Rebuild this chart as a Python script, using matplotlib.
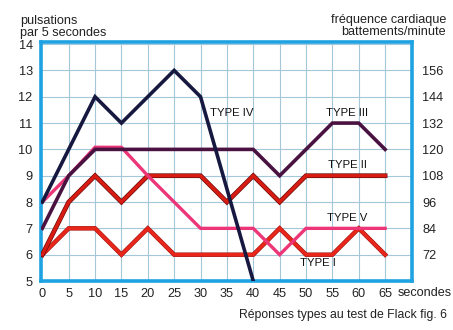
import matplotlib
matplotlib.use("Agg")
import matplotlib.pyplot as plt
import matplotlib.patheffects as pe

plt.rcParams['font.family'] = ['Liberation Sans', 'DejaVu Sans']

# Time (seconds) and pulse counts per 5 seconds for each response type
t_all = [0, 5, 10, 15, 20, 25, 30, 35, 40, 45, 50, 55, 60, 65]
t_type4 = [0, 5, 10, 15, 20, 25, 30, 40]
type4 = [8, 10, 12, 11, 12, 13, 12, 5]
type3 = [7, 9, 10, 10, 10, 10, 10, 10, 10, 9, 10, 11, 11, 10]
type5 = [8, 9, 10.08, 10.08, 9, 8, 7, 7, 7, 6, 7, 7, 7, 7]
type2 = [6, 8, 9, 8, 9, 9, 9, 8, 9, 8, 9, 9, 9, 9]
type1 = [6, 7, 7, 6, 7, 6, 6, 6, 6, 7, 6, 6, 7, 6]

left_ticks = [5, 6, 7, 8, 9, 10, 11, 12, 13, 14]
right_ticks = [72, 84, 96, 108, 120, 132, 144, 156]
x_ticks = [0, 5, 10, 15, 20, 25, 30, 35, 40, 45, 50, 55, 60, 65]

fig = plt.figure(figsize=(4.53, 3.30), dpi=100)
ax = fig.add_axes([41 / 453, 49 / 330, 371 / 453, 239 / 330])
ax.set_xlim(-0.25, 70.1)
ax.set_ylim(5, 14.08)

grid_c = '#a4c8da'
for xv in x_ticks[1:]:
    ax.axvline(xv, color=grid_c, lw=0.8, zorder=0)
for yv in left_ticks[1:]:
    ax.axhline(yv, color=grid_c, lw=0.8, zorder=0)

frame_c = '#1fa2e2'
for s in ax.spines.values():
    s.set_color(frame_c)
    s.set_linewidth(2.6)

ax.plot(t_all, type1, color='#e8261a', lw=2.4, solid_joinstyle='miter',
        path_effects=[pe.Stroke(linewidth=3.2, foreground='#a01010'), pe.Normal()], zorder=3)
ax.plot(t_all, type2, color='#d81c12', lw=2.4, solid_joinstyle='miter',
        path_effects=[pe.Stroke(linewidth=3.4, foreground='#6a0a0a'), pe.Normal()], zorder=3)
ax.plot(t_all, type5, color='#ec3678', lw=2.4, solid_joinstyle='miter', zorder=4)
ax.plot(t_all, type3, color='#4a1240', lw=2.6, solid_joinstyle='miter', zorder=4)
ax.plot(t_type4, type4, color='#161840', lw=2.6, solid_joinstyle='miter', zorder=5)

lab_kw = dict(fontsize=8.2, color='#111111', ha='center', va='center', zorder=6)
ax.text(36, 11.39, 'TYPE IV', **lab_kw)
ax.text(57.8, 11.39, 'TYPE III', **lab_kw)
ax.text(57.8, 9.41, 'TYPE II', **lab_kw)
ax.text(57.8, 7.40, 'TYPE V', **lab_kw)
ax.text(52.3, 5.68, 'TYPE I', **lab_kw)

ax.set_xticks(x_ticks)
ax.set_xticklabels([str(v) for v in x_ticks])
ax.set_yticks(left_ticks)
ax.set_yticklabels([str(v) for v in left_ticks])
ax.tick_params(axis='both', length=0, labelsize=9.2, colors='#222222')
ax.tick_params(axis='x', pad=5)
ax.tick_params(axis='y', pad=6)

ax2 = ax.twinx()
ax2.set_ylim(5 * 12, 14.08 * 12)
ax2.set_yticks(right_ticks)
ax2.set_yticklabels([str(v) for v in right_ticks])
ax2.tick_params(axis='y', length=0, labelsize=9.2, colors='#222222', pad=7.5)
for s in ax2.spines.values():
    s.set_visible(False)

tc = '#222222'
fig.text(20 / 453, 1 - 27 / 330, 'pulsations\npar 5 secondes', fontsize=9.1,
         color=tc, ha='left', va='center', linespacing=1.0)
fig.text(446 / 453, 1 - 26 / 330, 'fréquence cardiaque\nbattements/minute', fontsize=9.1,
         color=tc, ha='right', va='center', linespacing=1.0, multialignment='right')
fig.text(398 / 453, 1 - 293 / 330, 'secondes', fontsize=9.1, color=tc,
         ha='left', va='center')
fig.text(447 / 453, 1 - 315 / 330, 'Réponses types au test de Flack fig. 6',
         fontsize=8.85, color=tc, ha='right', va='center')

fig.savefig('out.png', dpi=100, facecolor='white')
